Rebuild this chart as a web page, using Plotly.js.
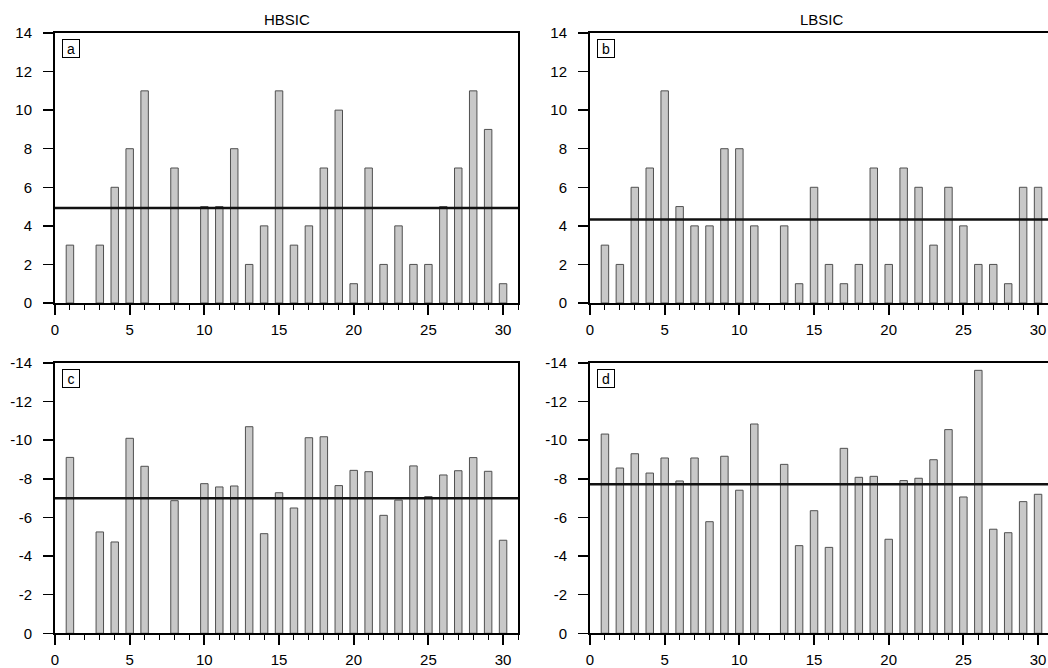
<!DOCTYPE html>
<html>
<head>
<meta charset="utf-8">
<script src="https://cdn.plot.ly/plotly-3.0.1.min.js"></script>
<style>
html,body{margin:0;padding:0;overflow:hidden;background:#fff;}
#chart{width:1060px;height:668px;}
</style>
</head>
<body>
<div id="chart"></div>
<script>
// ---- data (null = no bar in that year) ----
const years = Array.from({length: 30}, (_, i) => i + 1);
const hbsicCount = [3,null,3,6,8,11,null,7,null,5,5,8,2,4,11,3,4,7,10,1,7,2,4,2,2,5,7,11,9,1];
const lbsicCount = [3,2,6,7,11,5,4,4,8,8,4,null,4,1,6,2,1,2,7,2,7,6,3,6,4,2,2,1,6,6];
const hbsicValue = [-9.11,null,-5.25,-4.73,-10.10,-8.65,null,-6.87,null,-7.75,-7.58,-7.63,-10.70,-5.16,-7.28,-6.49,-10.13,-10.18,-7.65,-8.44,-8.37,-6.11,-6.90,-8.67,-7.08,-8.20,-8.42,-9.10,-8.39,-4.82];
const lbsicValue = [-10.32,-8.56,-9.30,-8.30,-9.08,-7.89,-9.08,-5.78,-9.17,-7.41,-10.84,null,-8.75,-4.54,-6.35,-4.45,-9.58,-8.08,-8.13,-4.87,-7.91,-8.03,-8.99,-10.55,-7.06,-13.62,-5.39,-5.21,-6.82,-7.20];
const meanLines = [4.93, 4.33, -7.0, -7.72];
const panelLabels = ['a','b','c','d'];
const columnTitles = ['HBSIC','LBSIC'];
const xTicks = [0,5,10,15,20,25,30];
const yTicksTop = [0,2,4,6,8,10,12,14];
const yTicksBottom = [0,-2,-4,-6,-8,-10,-12,-14];
const yTickTextTop = ['0','2','4','6','8','10','12','14'];
const yTickTextBottom = ['0','-2','-4','-6','-8','-10','-12','-14'];

// ---- layout helpers ----
const W = 1060, H = 668;
const FONT = 'Liberation Sans, Arial, Helvetica, sans-serif';
const xDom = [[55/W, 518/W], [590/W, 1053/W]];
const yDom = [[1-303/H, 1-33/H], [1-633.3/H, 1-363/H]];

const series = [hbsicCount, lbsicCount, hbsicValue, lbsicValue];
const traces = [];
const layout = {
  width: W, height: H,
  margin: {l:0, r:0, t:0, b:0},
  paper_bgcolor: '#fff', plot_bgcolor: '#fff',
  showlegend: false,
  font: {family: FONT, size: 15, color: '#000'},
  shapes: [], annotations: []
};

for (let p = 0; p < 4; p++) {
  const col = p % 2, row = Math.floor(p / 2);
  const xa = 'x' + (p === 0 ? '' : p + 1);
  const ya = 'y' + (p === 0 ? '' : p + 1);
  traces.push({
    type: 'bar', x: years, y: series[p], xaxis: xa, yaxis: ya,
    width: 0.5,
    marker: {color: '#c8c8c8', line: {color: '#505050', width: 1}},
    hoverinfo: 'x+y'
  });
  const axKeyX = 'xaxis' + (p === 0 ? '' : p + 1);
  const axKeyY = 'yaxis' + (p === 0 ? '' : p + 1);
  layout[axKeyX] = {
    domain: xDom[col], anchor: ya, range: [0, 31],
    tickmode: 'array', tickvals: xTicks,
    ticks: 'outside', ticklen: 10, tickwidth: 2, tickcolor: '#000',
    minor: {dtick: 1, ticks: 'outside', ticklen: 5, tickwidth: 1, tickcolor: '#000'},
    showline: true, linecolor: '#000', linewidth: 2, mirror: true,
    showgrid: false, zeroline: false,
    tickfont: {family: FONT, size: 15, color: '#000'},
    ticklabelstandoff: 2,
    fixedrange: true
  };
  layout[axKeyY] = {
    domain: yDom[row], anchor: xa,
    range: row === 0 ? [0, 14] : [0, -14],
    tickmode: 'array',
    tickvals: row === 0 ? yTicksTop : yTicksBottom,
    ticktext: row === 0 ? yTickTextTop : yTickTextBottom,
    ticks: 'outside', ticklen: 10, tickwidth: 1.5, tickcolor: '#000',
    showline: true, linecolor: '#000', linewidth: 2, mirror: true,
    showgrid: false, zeroline: false,
    tickfont: {family: FONT, size: 15, color: '#000'},
    ticklabelstandoff: 8,
    fixedrange: true
  };
  layout.shapes.push({
    type: 'line', xref: xa + ' domain', yref: ya,
    x0: 0, x1: 1, y0: meanLines[p], y1: meanLines[p],
    line: {color: '#111', width: 2.5}
  });
  layout.annotations.push({
    xref: xa + ' domain', yref: ya + ' domain', x: 0, y: 1,
    xanchor: 'left', yanchor: 'top', xshift: 7, yshift: -6,
    text: panelLabels[p], showarrow: false,
    font: {family: FONT, size: 14, color: '#000'},
    bordercolor: '#000', borderwidth: 1, borderpad: 1,
    width: 14, height: 15, bgcolor: '#fff'
  });
  if (row === 0) {
    layout.annotations.push({
      xref: xa + ' domain', yref: ya + ' domain', x: 0.5, y: 1,
      xanchor: 'center', yanchor: 'bottom', yshift: 3,
      text: columnTitles[col], showarrow: false,
      font: {family: FONT, size: 15, color: '#000'}
    });
  }
}

Plotly.newPlot('chart', traces, layout, {displayModeBar: false, staticPlot: true});
</script>
</body>
</html>
